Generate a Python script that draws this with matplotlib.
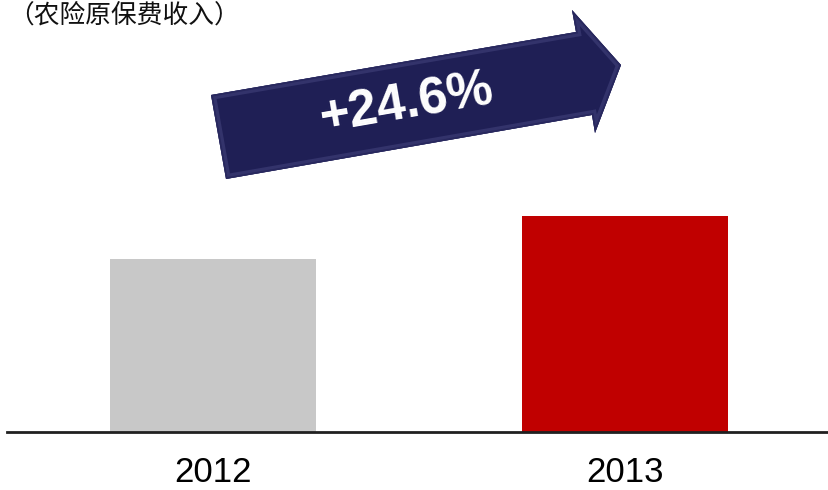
import matplotlib.pyplot as plt
from matplotlib.patches import Polygon

# 农险原保费收入 (亿元)
years = ['2012', '2013']
premium = [240.6, 299.8]
bar_colors = ['#c8c8c8', '#c00000']
growth_label = '+24.6%'

W, H = 829, 490
fig = plt.figure(figsize=(W / 100, H / 100), dpi=100)
fig.patch.set_facecolor('white')


def px(x, y):
    # pixel position (origin top-left) -> figure fraction
    return (x / W, 1 - y / H)


ax = fig.add_axes([7 / W, 58 / H, 822 / W, 432 / H])
ax.bar(range(len(years)), premium, width=0.5, color=bar_colors, zorder=2)
ax.set_xlim(-0.5, 1.495)
ax.set_ylim(0, 600)
ax.set_xticks(range(len(years)), years)
ax.tick_params(axis='x', length=0, pad=17, labelsize=25)
for lbl in ax.get_xticklabels():
    lbl.set_family('Liberation Sans')
ax.set_yticks([])
for side in ['top', 'left', 'right']:
    ax.spines[side].set_visible(False)
ax.spines['bottom'].set_linewidth(2)
ax.spines['bottom'].set_color('#202020')
ax.patch.set_alpha(0)

# growth arrow with a soft bevel
pts = [(211, 95), (576, 32), (572, 10), (621, 65), (595, 133), (592, 115), (226, 179)]
pts = [px(x, y) for x, y in pts]
body = Polygon(pts, closed=True, transform=fig.transFigure,
               facecolor='#1f1f55', edgecolor='none', zorder=5)
fig.add_artist(body)
bevel = Polygon(pts, closed=True, transform=fig.transFigure, fill=False,
                edgecolor='#33336b', linewidth=7, joinstyle='miter', zorder=6)
bevel.set_clip_path(body)
fig.add_artist(bevel)
rim = Polygon(pts, closed=True, transform=fig.transFigure, fill=False,
              edgecolor='#28285e', linewidth=2.5, joinstyle='miter', zorder=6)
rim.set_clip_path(body)
fig.add_artist(rim)

tx, ty = px(407, 104)
fig.text(tx, ty, growth_label, color='white', fontsize=37, fontweight='bold',
         family='Liberation Sans', rotation=9.8, rotation_mode='anchor',
         ha='center', va='center', zorder=7)

fig.text(8 / W, 1 - 16 / H, '（农险原保费收入）', fontsize=18.5,
         family=['Noto Sans CJK SC', 'DejaVu Sans'], color='#111111',
         ha='left', va='center')

fig.savefig('out.png', dpi=100)
